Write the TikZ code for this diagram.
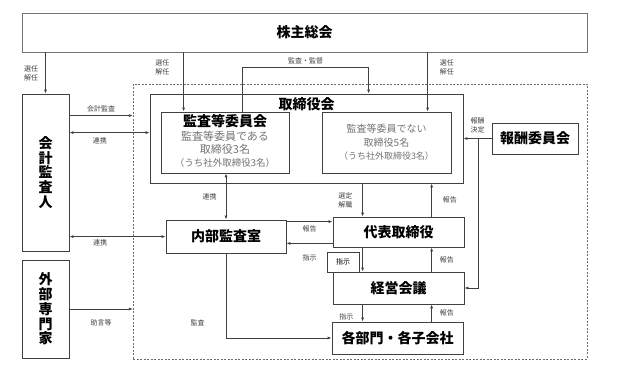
\documentclass[tikz,border=0pt]{standalone}
\usepackage{fontspec}
\setmainfont{Noto Sans CJK JP}
\usetikzlibrary{arrows.meta,positioning,calc}
\definecolor{lcol}{RGB}{64,64,64}
\definecolor{gcol}{RGB}{115,115,115}
\definecolor{dcol}{RGB}{110,110,110}
\begin{document}
\begin{tikzpicture}[x=1pt, y=-1pt, >={Latex[length=4pt,width=3pt]},
  box/.style={draw=lcol, line width=0.8pt, inner sep=0pt, font=\fontsize{14}{16}\selectfont\bfseries},
  vbox/.style={box, align=center, font=\fontsize{14}{14.75}\selectfont\bfseries},
  ttl/.style={inner sep=0pt, font=\fontsize{14}{16}\selectfont\bfseries},
  sub/.style={align=center, text=gcol, inner sep=0pt},
  lbl/.style={font=\fontsize{7}{9}\selectfont, text=lcol, align=center, inner sep=1pt},
  conn/.style={->, lcol, line width=0.7pt}]
\useasboundingbox (0,0) rectangle (630,387);
\node[box, draw=black!55, minimum width=565pt, minimum height=39pt] (soukai) at (304.5,32.5) {株主総会};
\node[draw=dcol, dash pattern=on 2pt off 1.5pt, minimum width=454pt, minimum height=275pt] (area) at (360,221.5) {};
\node[box, minimum width=313pt, minimum height=89pt] (tori) at (306.5,138.5) {};
\node[ttl, below=4pt of tori.north] (torit) {取締役会};
\node[box, minimum width=128pt, minimum height=61pt] (kansaiin) at (225,142.5) {};
\node[ttl, below=3pt of kansaiin.north] (kansait) {監査等委員会};
\node[sub, font=\fontsize{11}{13}\selectfont, below=3pt of kansait] (kansaib) {監査等委員である\\取締役3名\\{\fontsize{9.5}{13}\selectfont （うち社外取締役3名）}};
\node[box, minimum width=129pt, minimum height=61pt] (hikansa) at (386.5,142.5) {};
\node[sub, font=\fontsize{10}{13.5}\selectfont] (hikansab) at (hikansa.center) {監査等委員でない\\取締役5名\\{\fontsize{9}{13}\selectfont （うち社外取締役3名）}};
\node[vbox, minimum width=47pt, minimum height=157pt] (kaikei) at (45.5,172.5) {会\\計\\監\\査\\人};
\node[vbox, minimum width=47pt, minimum height=98pt] (gaibu) at (45.5,309) {外\\部\\専\\門\\家};
\node[box, minimum width=120pt, minimum height=33pt] (naibu) at (226,236.5) {内部監査室};
\node[box, minimum width=131pt, minimum height=30pt] (daihyo) at (398.5,232) {代表取締役};
\node[box, minimum width=131pt, minimum height=32pt] (keiei) at (398.5,288) {経営会議};
\node[draw=lcol, line width=0.6pt, fill=white, minimum width=32pt, minimum height=20pt, inner sep=0pt, font=\fontsize{7}{9}\selectfont] (shiji) at (343,262) {指示};
\node[box, minimum width=131pt, minimum height=32pt] (bumon) at (397.5,338) {各部門・各子会社};
\node[box, minimum width=86pt, minimum height=31pt] (houshu) at (535,138.5) {報酬委員会};
\draw[conn] (kaikei.north |- soukai.south) -- node[lbl, left=6pt] {選任\\解任} (kaikei.north);
\draw[conn] ($(soukai.south west)+(162,0)$) -- node[lbl, pos=0.25, left=13pt] {選任\\解任} ($(kansaiin.north west)+(23,0)$);
\draw[conn] ($(soukai.south west)+(406,0)$) -- node[lbl, pos=0.25, right=11pt] {選任\\解任} ($(hikansa.north west)+(106,0)$);
\coordinate (k1) at ($(kansaiin.north west)+(82,-44)$);
\coordinate (k2) at ($(tori.north west)+(219,-26)$);
\draw[conn] (kansaiin.north -| k1) -- (k1) -- node[lbl, above=2pt] {監査・監督} (k2) -- (tori.north -| k2);
\draw[conn] ($(kaikei.north east)+(0,22)$) coordinate (a1) -- node[lbl, above=2pt] {会計監査} (a1 -| area.west);
\draw[conn, <->] ($(kaikei.north east)+(0,39)$) coordinate (a2) -- node[lbl, pos=0.38, below=4pt] {連携} (a2 -| tori.west);
\draw[conn, <->] ($(kaikei.north east)+(0,143)$) coordinate (a3) -- node[lbl, pos=0.32, below=1.5pt] {連携} (a3 -| naibu.west);
\draw[conn, <->] (naibu.north |- kansaiin.south) -- node[lbl, left=8pt] {連携} (naibu.north);
\draw[conn] ($(naibu.north east)+(0,2)$) coordinate (a4) -- node[lbl, below=2.5pt] {報告} (a4 -| daihyo.west);
\draw[conn] ($(daihyo.south west)+(0,-4)$) coordinate (a5) -- node[lbl, below=9.5pt] {指示} (a5 -| naibu.east);
\coordinate (d1) at ($(daihyo.north west)+(30,0)$);
\coordinate (d2) at ($(daihyo.north west)+(99,0)$);
\draw[conn] (d1 |- tori.south) -- node[lbl, left=9pt] {選定\\解職} (d1);
\draw[conn] (d2) -- node[lbl, right=10pt] {報告} (d2 |- tori.south);
\draw[conn] (d1 |- daihyo.south) -- (d1 |- keiei.north);
\draw[conn] (d2 |- keiei.north) -- node[lbl, right=7pt] {報告} (d2 |- daihyo.south);
\draw[conn] (d1 |- keiei.south) -- node[lbl, pos=0.7, left=8pt] {指示} (d1 |- bumon.north);
\draw[conn] (d2 |- bumon.north) -- node[lbl, right=7pt] {報告} (d2 |- keiei.south);
\draw[conn] (naibu.south) |- node[lbl, pos=0.41, left=20pt] {監査} (bumon.west);
\draw[conn] (gaibu.east) -- node[lbl, below=9.5pt] {助言等} (gaibu.east -| area.west);
\draw[conn] (houshu.west) -- node[lbl, above=4pt] {報酬\\決定} (houshu.west -| tori.east);
\draw[conn] ($(houshu.west)+(-13,0)$) |- (keiei.east);
\end{tikzpicture}
\end{document}
